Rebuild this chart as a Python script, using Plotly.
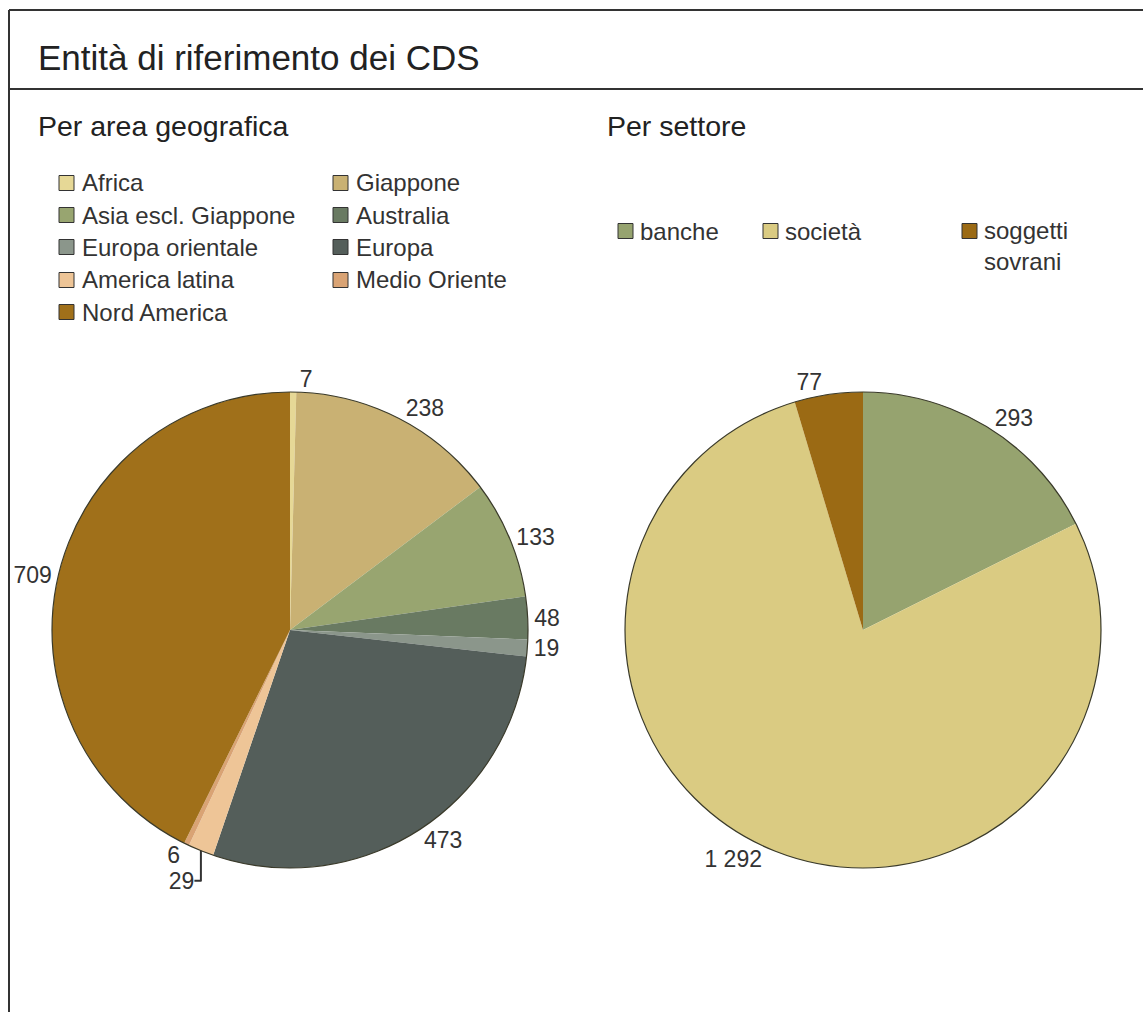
import plotly.graph_objects as go

W, H = 1143, 1012

# ---------------- data ----------------
geo_labels = ["Africa", "Giappone", "Asia escl. Giappone", "Australia",
              "Europa orientale", "Europa", "America latina", "Medio Oriente",
              "Nord America"]
geo_values = [7, 238, 133, 48, 19, 473, 29, 6, 709]
geo_colors = ["#e6d896", "#c9b173", "#98a570", "#697a62", "#8b968b",
              "#545e5a", "#eec597", "#d9a374", "#a0701a"]

sect_labels = ["banche", "società", "soggetti<br>sovrani"]
sect_values = [293, 1292, 77]
sect_colors = ["#96a36f", "#dacb82", "#9b6a14"]

title_text = "Entità di riferimento dei CDS"
sub_left = "Per area geografica"
sub_right = "Per settore"

FONT = "Liberation Sans, Arial, sans-serif"
TXT = "#333333"

def px(x):
    return x / W

def py(y):
    return 1 - y / H

# pie geometry (pixels)
R = 238
cL = (290, 630)
cR = (863, 630)

def dom(c):
    return dict(x=[px(c[0] - R), px(c[0] + R)], y=[py(c[1] + R), py(c[1] - R)])

fig = go.Figure()
fig.add_trace(go.Pie(
    labels=geo_labels, values=geo_values, sort=False, direction="clockwise",
    rotation=0, domain=dom(cL),
    marker=dict(colors=geo_colors, line=dict(width=0)),
    texttemplate="%{value:,}", textposition="outside",
    textfont=dict(size=23, color=TXT, family=FONT),
    hoverinfo="label+value", showlegend=False,
))
fig.add_trace(go.Pie(
    labels=sect_labels, values=sect_values, sort=False, direction="clockwise",
    rotation=0, domain=dom(cR),
    marker=dict(colors=sect_colors, line=dict(width=0)),
    texttemplate="%{value:,}", textposition="outside",
    textfont=dict(size=23, color=TXT, family=FONT),
    hoverinfo="label+value", showlegend=False,
))

shapes = []
annotations = []

# frame lines
line_style = dict(color="#333333", width=2)
shapes.append(dict(type="line", xref="paper", yref="paper", x0=px(9), x1=px(9), y0=py(10), y1=py(1012), line=line_style))
shapes.append(dict(type="line", xref="paper", yref="paper", x0=px(9), x1=1, y0=py(10), y1=py(10), line=line_style))
shapes.append(dict(type="line", xref="paper", yref="paper", x0=px(9), x1=1, y0=py(89), y1=py(89), line=line_style))

# pie outlines
for c in (cL, cR):
    shapes.append(dict(type="circle", xref="paper", yref="paper",
                       x0=px(c[0] - R), x1=px(c[0] + R), y0=py(c[1] + R), y1=py(c[1] - R),
                       line=dict(color="#3a3a2a", width=1.2)))

# titles
annotations.append(dict(text=title_text, x=px(36), y=py(57), xref="paper", yref="paper",
                        xanchor="left", yanchor="middle", showarrow=False,
                        font=dict(size=35, color="#222222", family=FONT)))
for t, x in ((sub_left, 36), (sub_right, 605)):
    annotations.append(dict(text=t, x=px(x), y=py(126), xref="paper", yref="paper",
                            xanchor="left", yanchor="middle", showarrow=False,
                            font=dict(size=28.5, color="#222222", family=FONT)))

# custom legends
SQ = 15
def legend_item(label, color, x, y, gap=8):
    shapes.append(dict(type="rect", xref="paper", yref="paper",
                       x0=px(x), x1=px(x + SQ), y0=py(y + SQ / 2), y1=py(y - SQ / 2),
                       fillcolor=color, line=dict(color="#333333", width=1)))
    multi = "<br>" in label
    annotations.append(dict(text=label, x=px(x + SQ + gap - 2), y=py(y), xref="paper", yref="paper",
                            xanchor="left", yanchor="top" if multi else "middle",
                            yshift=16 if multi else 0, align="left",
                            showarrow=False, font=dict(size=24, color=TXT, family=FONT)))

col_x = [59, 333]
row_y = [183, 215, 247, 280, 312]
for i, (lab, col) in enumerate(zip(geo_labels, geo_colors)):
    legend_item(lab, col, col_x[i % 2], row_y[i // 2])

sect_x = [618, 763, 962]
for lab, col, x in zip(sect_labels, sect_colors, sect_x):
    legend_item(lab, col, x, 231, gap=7)

fig.update_layout(
    width=W, height=H, margin=dict(l=0, r=0, t=0, b=0),
    paper_bgcolor="white", plot_bgcolor="white",
    separators=", ",
    font=dict(family=FONT, color=TXT),
    shapes=shapes, annotations=annotations,
)

fig.write_html("out.html")
